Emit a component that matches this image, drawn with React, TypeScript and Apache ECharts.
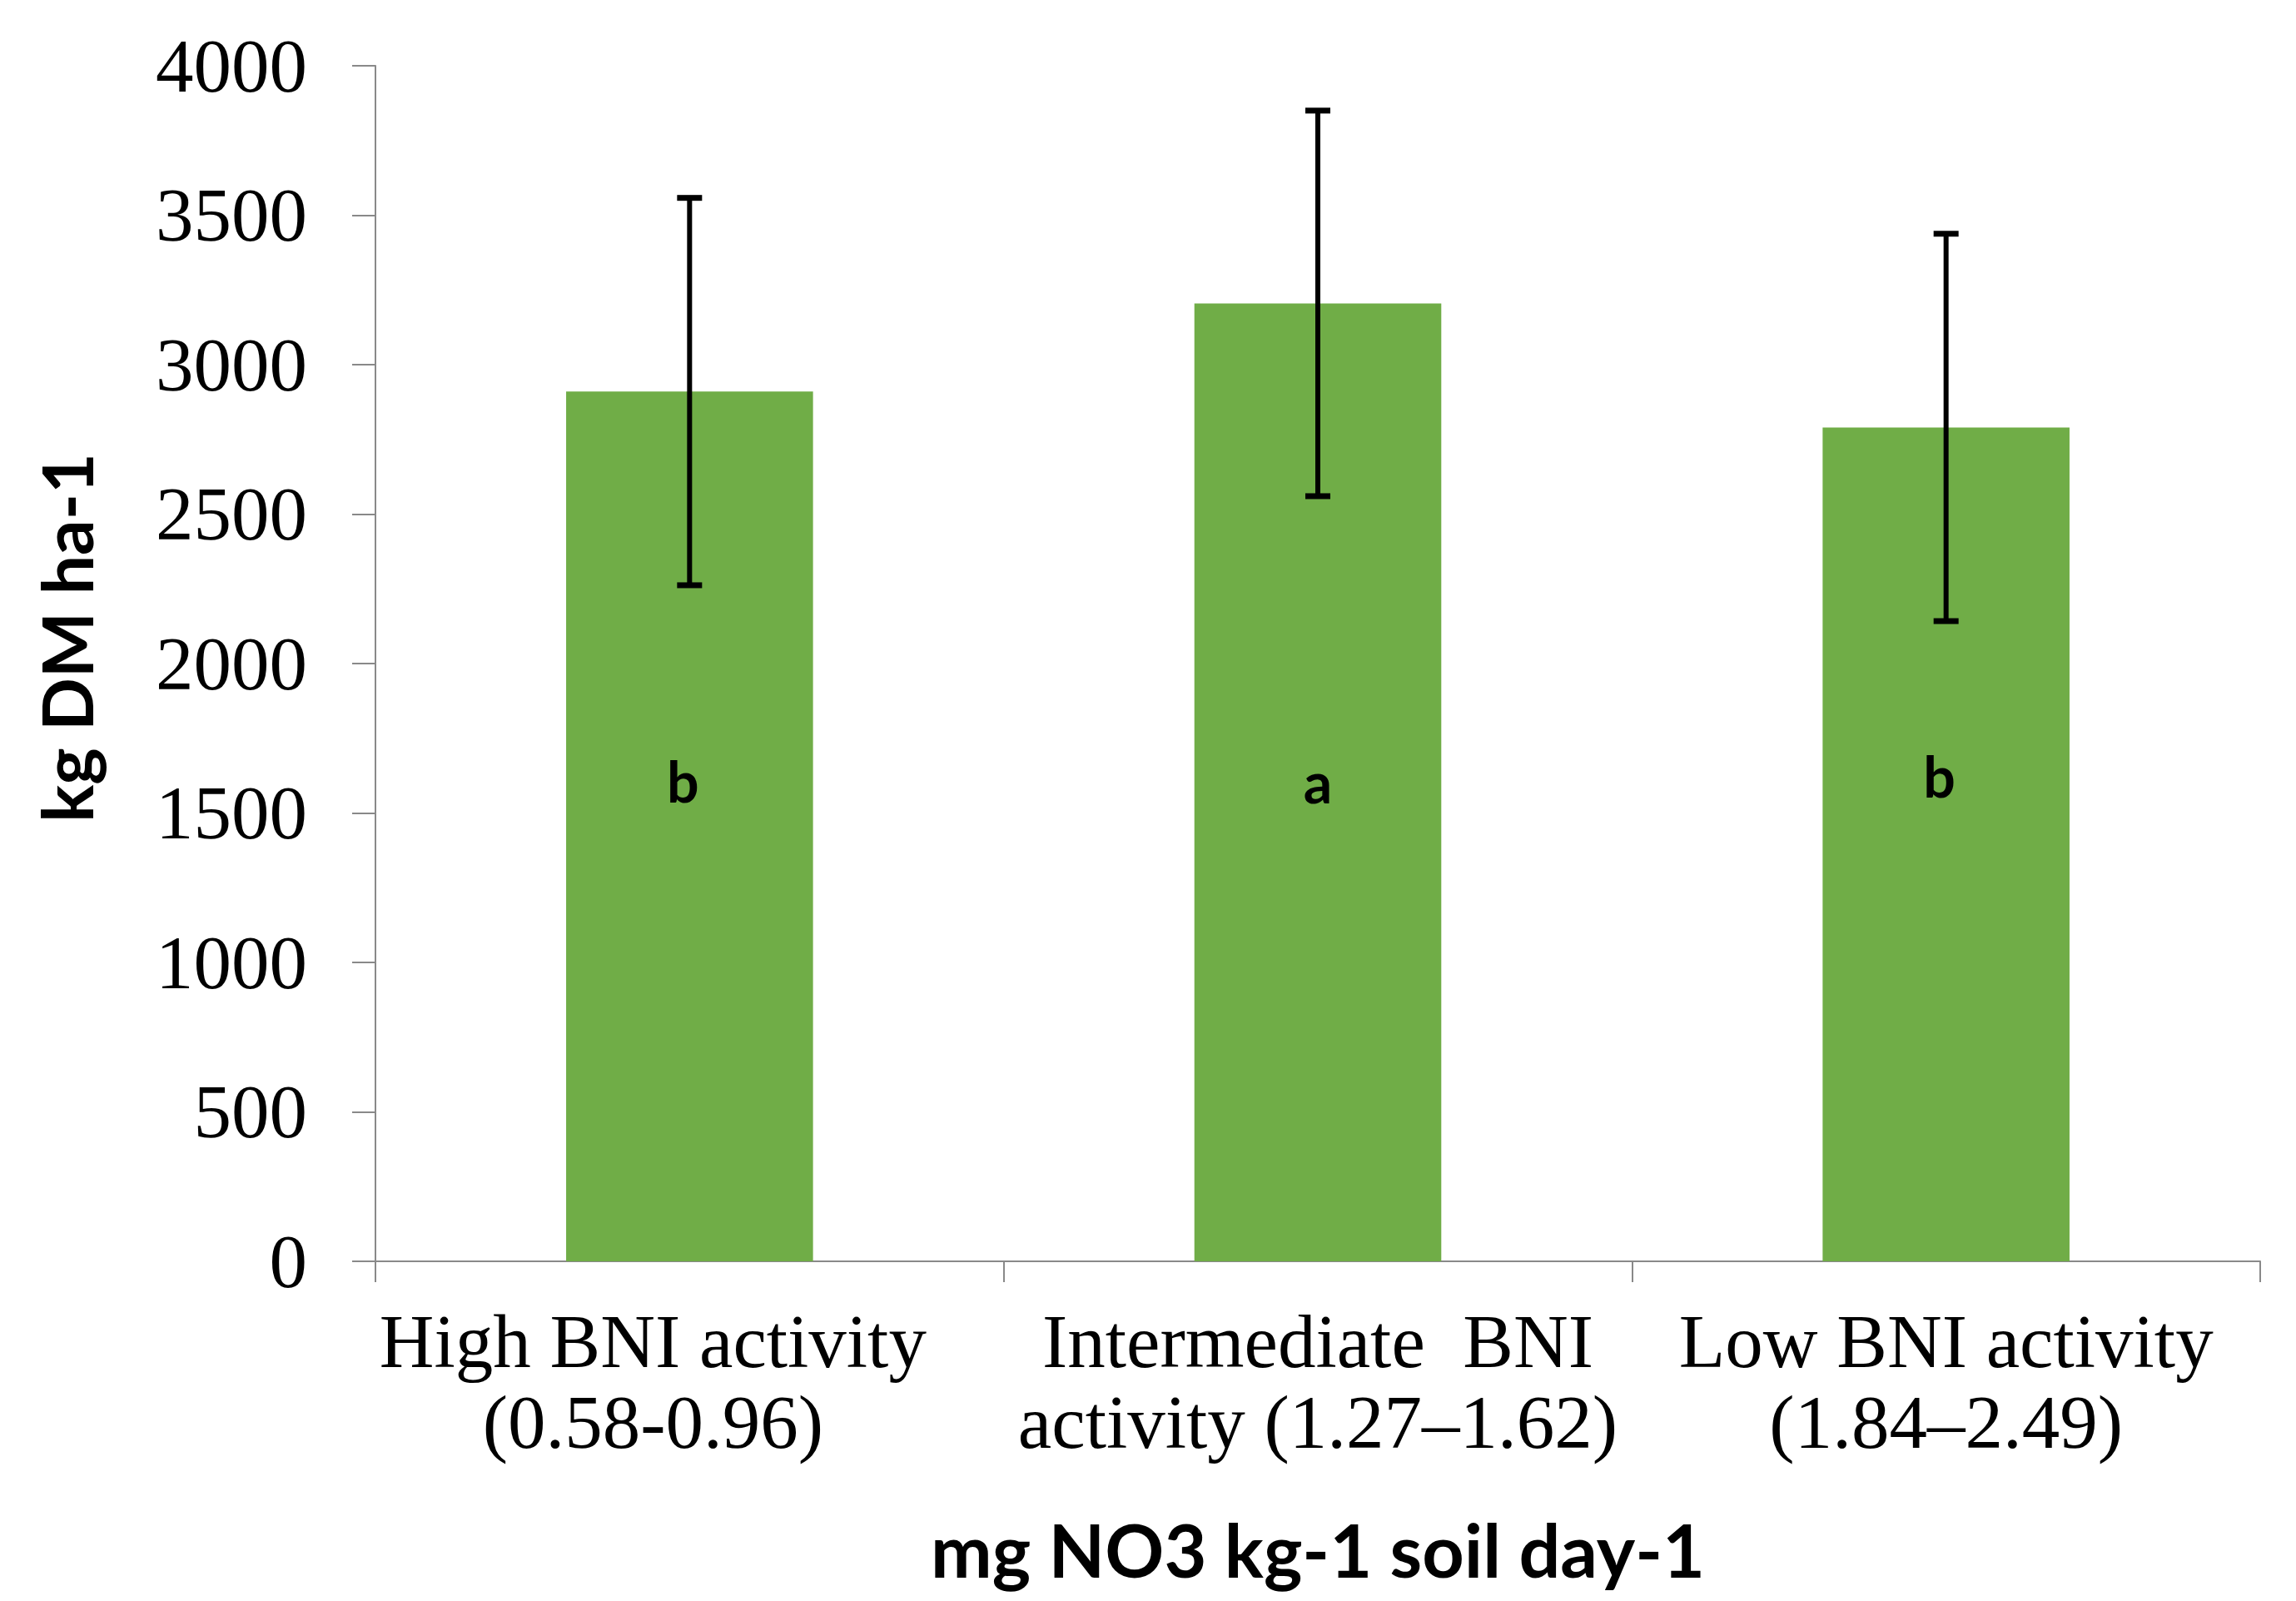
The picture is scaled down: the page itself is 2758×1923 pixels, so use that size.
import React, { useEffect, useRef } from "react";
import * as echarts from "echarts";

const categories = [
  "High BNI activity\n(0.58-0.96)",
  "Intermediate  BNI\nactivity (1.27–1.62)",
  "Low BNI activity\n(1.84–2.49)",
];
const yieldValues = [2910, 3205, 2790];
const errorValues = [648, 645, 648];
const letters = ["b", "a", "b"];
const letterValues = [1610, 1605, 1625];
const yAxisTitle = "kg DM ha-1";
const xAxisTitle = "mg NO3 kg-1 soil day-1";

const App: React.FC = () => {
  const ref = useRef<HTMLDivElement>(null);

  useEffect(() => {
    if (!ref.current) return;
    const chart = echarts.init(ref.current, undefined, { renderer: "svg" });
    const axisGray = "#898989";

    const catData = categories.map((c, i) =>
      i === 0 ? { value: c, textStyle: { padding: [0, 88, 0, 0] } } : c
    );

    const option: any = {
      animation: false,
      backgroundColor: "#ffffff",
      grid: { left: 451, right: 43, top: 79, bottom: 408, containLabel: false },
      xAxis: {
        type: "category",
        data: catData,
        axisLine: { lineStyle: { color: axisGray, width: 2 } },
        axisTick: { show: true, length: 25, lineStyle: { color: axisGray, width: 2 } },
        axisLabel: {
          fontFamily: "Liberation Serif",
          fontSize: 91,
          color: "#000",
          lineHeight: 97,
          margin: 48,
          interval: 0,
        },
        name: xAxisTitle,
        nameLocation: "middle",
        nameGap: 302,
        nameTextStyle: {
          fontFamily: "Lato",
          fontWeight: "bold",
          fontSize: 88,
          color: "#000",
        },
      },
      yAxis: {
        type: "value",
        min: 0,
        max: 4000,
        interval: 500,
        splitLine: { show: false },
        axisLine: { show: true, lineStyle: { color: axisGray, width: 2 } },
        axisTick: { show: true, length: 28, lineStyle: { color: axisGray, width: 2 } },
        axisLabel: {
          fontFamily: "Liberation Serif",
          fontSize: 91,
          color: "#000",
          margin: 82,
          formatter: (v: number) => String(v),
        },
        name: yAxisTitle,
        nameLocation: "middle",
        nameRotate: 90,
        nameGap: 330,
        nameTextStyle: {
          fontFamily: "Lato",
          fontWeight: "bold",
          fontSize: 84,
          color: "#000",
          padding: [0, 0, 0, 62],
        },
      },
      series: [
        {
          type: "bar",
          data: yieldValues,
          barWidth: "39.3%",
          itemStyle: { color: "#70AD47" },
          z: 2,
        },
        {
          type: "custom",
          z: 5,
          data: yieldValues.map((v, i) => [i, v, errorValues[i]]),
          renderItem: (params: any, api: any) => {
            const idx = api.value(0);
            const v = api.value(1);
            const e = api.value(2);
            const top = api.coord([idx, v + e]);
            const bot = api.coord([idx, v - e]);
            const hw = 15;
            const st = { stroke: "#000", lineWidth: 6 };
            const cap = { stroke: "#000", lineWidth: 7 };
            return {
              type: "group",
              children: [
                { type: "line", shape: { x1: top[0], y1: top[1], x2: bot[0], y2: bot[1] }, style: st },
                { type: "line", shape: { x1: top[0] - hw, y1: top[1], x2: top[0] + hw, y2: top[1] }, style: cap },
                { type: "line", shape: { x1: bot[0] - hw, y1: bot[1], x2: bot[0] + hw, y2: bot[1] }, style: cap },
              ],
            };
          },
        },
        {
          type: "custom",
          z: 6,
          data: letterValues.map((v, i) => [i, v]),
          renderItem: (params: any, api: any) => {
            const idx = api.value(0);
            const v = api.value(1);
            const p = api.coord([idx, v]);
            return {
              type: "text",
              x: p[0] - (idx === 1 ? 0 : 8),
              y: p[1],
              style: {
                text: letters[params.dataIndex],
                fill: "#000",
                fontFamily: "Lato",
                fontWeight: "bold",
                fontSize: 68,
                align: "center",
                verticalAlign: "middle",
              },
            };
          },
        },
      ],
    };

    chart.setOption(option);
    return () => chart.dispose();
  }, []);

  return (
    <div
      ref={ref}
      style={{ position: "absolute", left: 0, top: 0, width: 2758, height: 1923, background: "#fff" }}
    />
  );
};

export default App;
